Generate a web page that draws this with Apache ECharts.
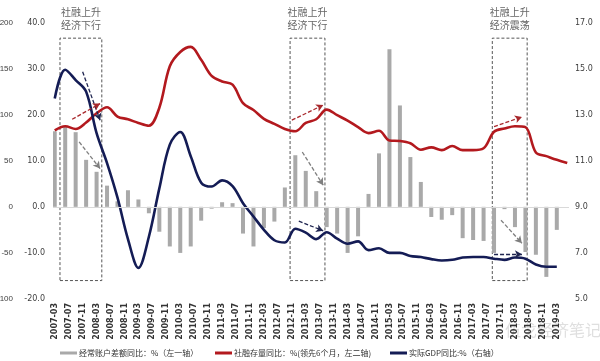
<!DOCTYPE html>
<html><head><meta charset="utf-8">
<script src="https://cdn.jsdelivr.net/npm/echarts@6/dist/echarts.min.js"></script>
<style>html,body{margin:0;padding:0;background:#fff}#c{width:600px;height:361px}</style>
</head><body><div id="c"></div>
<script>
// monthly category axis 2007-03 .. 2019-06
const months = [];
for (let k = 0; k < 148; k++) {
  const m = 2 + k, y = 2007 + Math.floor(m / 12), mm = m % 12 + 1;
  months.push(y + '-' + (mm < 10 ? '0' : '') + mm);
}
// quarterly values, starting 2007-03, every 3 months
const barValues = [82,87,81,51, 38,23,6,18, 8,-7,-27,-43, -50,-43,-15,-2, 5,4,-29,-43, -23,-16,21,56,
  39,17,-22,-29, -50,-32,14,58, 171,110,54,27, -11,-14,-9,-34, -36,-37,-50,-2.5, -22,-49,-52,-76, -25];
const gdpValues = [13.7,14.95,14.5,14.0, 12.2,10.9,9.4,7.6, 6.35,7.7,9.8,11.7, 12.25,11.2,10.05,9.88,
  10.15,9.9,9.16,8.58, 8.0,7.55,7.45,8.05, 7.88,7.6,7.9,7.62, 7.4,7.5,7.12,7.2, 7.0,7.0,6.87,6.82,
  6.73,6.67,6.7,6.8, 6.82,6.82,6.75,6.7, 6.8,6.75,6.5,6.4, 6.4];
const sfValues = [16.6,17.5,16.9,18.3, 20.3,21.6,19.6,19.0, 18.2,17.6,21.5,30.5, 33.6,34.7,31.9,28.4,
  27.2,26.5,22.5,21.0, 19.1,18.0,16.9,16.4, 18.2,19.0,21.1,19.9, 18.7,17.3,16.0,16.5, 14.4,14.3,13.8,12.4,
  12.9,12.3,13.2,12.3, 12.3,12.7,16.3,17.0, 17.5,17.3,11.8,11.0, 10.2,9.5];
const seriesNames = ['经常账户差额同比：%（左一轴）', '社融存量同比：%(领先6个月，左二轴)', '实际GDP同比:%（右轴）'];
// annotation boxes: [x0 idx, x1 idx, label]
const boxes = [[3, 14, '社融上升\n经济下行'], [68, 78, '社融上升\n经济下行'], [125, 135, '社融上升\n经济震荡']];
const boxTop = 183, boxBottom = -80; // in left-axis-1 units
// arrows (x idx, left-axis-2 value) pairs with colour key
const arrows = [
  [8, 29.3, 13, 18.8, 'navy'], [5, 19.0, 13, 22.4, 'red'], [7, 14.1, 13, 8.3, 'gray'],
  [68, 18.8, 77, 22.1, 'red'], [71, 11.9, 77, 4.7, 'gray'], [70, -3.1, 77, -5.2, 'navy'],
  [126, 17.4, 134, 19.5, 'red'], [128, -2.9, 134, -7.9, 'gray'], [126, -10.3, 134, -10.3, 'navy']
];
const arrowColors = { navy: '#1f2550', red: '#a8282c', gray: '#7f7f7f' };

const C_BAR = '#a9a9a9', C_RED = '#b3191e', C_NAVY = '#141c55';
const q = arr => arr.map((v, j) => [j * 3, v]);
const lblFont = { fontSize: 8, color: '#404040', fontFamily: 'DejaVu Sans' };

const chart = echarts.init(document.getElementById('c'), null, { renderer: 'canvas' });
chart.setOption({
  animation: false,
  backgroundColor: '#fff',
  grid: { left: 53, right: 31, top: 22.5, bottom: 62, containLabel: false, outerBoundsMode: 'none' },
  legend: seriesNames.map((n, k) => ({
    data: [n], left: [55, 210, 385][k], top: 344, icon: 'rect', itemWidth: 17, itemHeight: 3, itemGap: 0,
    textStyle: { fontSize: 8, color: '#333', fontFamily: 'Noto Sans CJK SC', padding: [0, 0, 0, -3] }
  })),
  xAxis: {
    type: 'category', data: months, boundaryGap: true,
    axisLine: { show: false }, axisTick: { show: false }, splitLine: { show: false },
    axisLabel: { interval: 3, rotate: 90, margin: 4, fontSize: 8, fontWeight: 'bold', color: '#333', fontFamily: 'DejaVu Sans' }
  },
  yAxis: [
    { type: 'value', position: 'left', offset: 32, min: -100, max: 200, interval: 50,
      axisLine: { show: false }, axisTick: { show: false }, splitLine: { show: false },
      axisLabel: { margin: 8, fontSize: 8, color: '#404040', fontFamily: 'Liberation Sans' } },
    { type: 'value', position: 'left', min: -20, max: 40, interval: 10,
      axisLine: { show: false }, axisTick: { show: false }, splitLine: { show: false },
      axisLabel: Object.assign({ margin: 8, formatter: v => v.toFixed(1) }, lblFont) },
    { type: 'value', position: 'right', min: 5, max: 17, interval: 2,
      axisLine: { show: false }, axisTick: { show: false }, splitLine: { show: false },
      axisLabel: Object.assign({ margin: 6, formatter: v => v.toFixed(1) }, lblFont) }
  ],
  series: [
    { name: seriesNames[0], type: 'bar', yAxisIndex: 0, data: q(barValues), barWidth: 4,
      itemStyle: { color: C_BAR }, z: 1,
      markLine: { silent: true, symbol: ['none', 'none'], label: { show: false },
        lineStyle: { color: '#d9d9d9', width: 1, type: 'solid' }, data: [{ yAxis: 0 }] },
      markArea: { silent: true,
        itemStyle: { color: 'rgba(0,0,0,0)', borderColor: '#555', borderWidth: 1, borderType: [3, 2] },
        label: { show: true, position: 'top', distance: 6, color: '#666', fontSize: 10, lineHeight: 13,
          fontFamily: 'Noto Sans CJK SC' },
        data: boxes.map(b => [{ name: b[2], coord: [b[0], boxTop] }, { coord: [b[1], boxBottom] }]) } },
    { name: seriesNames[1], type: 'line', yAxisIndex: 1, data: q(sfValues), smooth: 0.35,
      showSymbol: false, lineStyle: { color: C_RED, width: 2.6 }, itemStyle: { color: C_RED }, z: 3,
      markLine: { silent: true, symbol: ['none', 'arrow'], symbolSize: [6, 7], label: { show: false },
        data: arrows.map(a => [
          { coord: [a[0], a[1]], lineStyle: { color: arrowColors[a[4]], width: 1.3, type: [4, 2] }, itemStyle: { color: arrowColors[a[4]] } },
          { coord: [a[2], a[3]] }]) } },
    { name: seriesNames[2], type: 'line', yAxisIndex: 2, data: q(gdpValues), smooth: 0.35,
      showSymbol: false, lineStyle: { color: C_NAVY, width: 2.6 }, itemStyle: { color: C_NAVY }, z: 4 }
  ],
  graphic: [{ type: 'text', left: 505, top: 322, silent: true,
    style: { text: '伍戈经济笔记', fontSize: 16, fill: 'rgba(150,150,150,0.3)', fontFamily: 'Noto Sans CJK SC' } }]
});
</script></body></html>
